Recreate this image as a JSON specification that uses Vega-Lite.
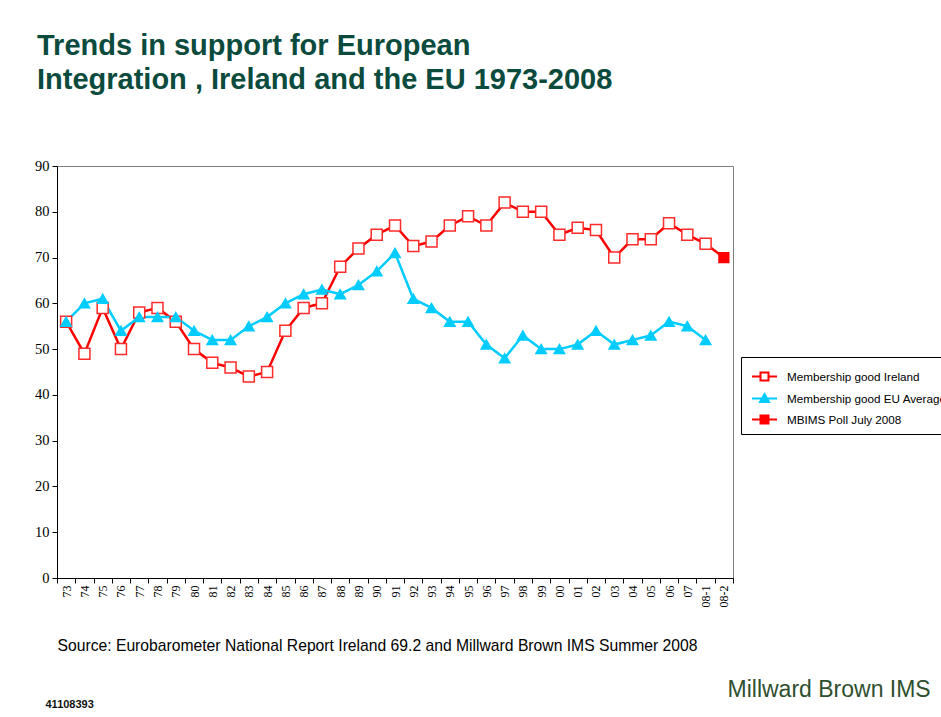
{
  "$schema": "https://vega.github.io/schema/vega-lite/v6.json",
  "width": 676,
  "height": 412,
  "autosize": {"type": "none"},
  "padding": {"left": 57, "top": 166, "right": 208, "bottom": 139},
  "background": "white",
  "config": {"view": {"stroke": "#808080", "strokeWidth": 1}},
  "title": {
    "text": ["Trends in support for European", "Integration ,  Ireland and the EU 1973-2008"],
    "anchor": "start",
    "frame": "group",
    "dx": -20,
    "offset": 34,
    "baseline": "bottom",
    "font": "Liberation Sans",
    "fontSize": 29,
    "fontWeight": "bold",
    "color": "#0b4b3d",
    "lineHeight": 34
  },
  "data": {
    "values": [
      {"year": "73", "series": "Membership good Ireland", "value": 56},
      {"year": "73", "series": "Membership good EU Average", "value": 56},
      {"year": "74", "series": "Membership good Ireland", "value": 49},
      {"year": "74", "series": "Membership good EU Average", "value": 60},
      {"year": "75", "series": "Membership good Ireland", "value": 59},
      {"year": "75", "series": "Membership good EU Average", "value": 61},
      {"year": "76", "series": "Membership good Ireland", "value": 50},
      {"year": "76", "series": "Membership good EU Average", "value": 54},
      {"year": "77", "series": "Membership good Ireland", "value": 58},
      {"year": "77", "series": "Membership good EU Average", "value": 57},
      {"year": "78", "series": "Membership good Ireland", "value": 59},
      {"year": "78", "series": "Membership good EU Average", "value": 57},
      {"year": "79", "series": "Membership good Ireland", "value": 56},
      {"year": "79", "series": "Membership good EU Average", "value": 57},
      {"year": "80", "series": "Membership good Ireland", "value": 50},
      {"year": "80", "series": "Membership good EU Average", "value": 54},
      {"year": "81", "series": "Membership good Ireland", "value": 47},
      {"year": "81", "series": "Membership good EU Average", "value": 52},
      {"year": "82", "series": "Membership good Ireland", "value": 46},
      {"year": "82", "series": "Membership good EU Average", "value": 52},
      {"year": "83", "series": "Membership good Ireland", "value": 44},
      {"year": "83", "series": "Membership good EU Average", "value": 55},
      {"year": "84", "series": "Membership good Ireland", "value": 45},
      {"year": "84", "series": "Membership good EU Average", "value": 57},
      {"year": "85", "series": "Membership good Ireland", "value": 54},
      {"year": "85", "series": "Membership good EU Average", "value": 60},
      {"year": "86", "series": "Membership good Ireland", "value": 59},
      {"year": "86", "series": "Membership good EU Average", "value": 62},
      {"year": "87", "series": "Membership good Ireland", "value": 60},
      {"year": "87", "series": "Membership good EU Average", "value": 63},
      {"year": "88", "series": "Membership good Ireland", "value": 68},
      {"year": "88", "series": "Membership good EU Average", "value": 62},
      {"year": "89", "series": "Membership good Ireland", "value": 72},
      {"year": "89", "series": "Membership good EU Average", "value": 64},
      {"year": "90", "series": "Membership good Ireland", "value": 75},
      {"year": "90", "series": "Membership good EU Average", "value": 67},
      {"year": "91", "series": "Membership good Ireland", "value": 77},
      {"year": "91", "series": "Membership good EU Average", "value": 71},
      {"year": "92", "series": "Membership good Ireland", "value": 72.5},
      {"year": "92", "series": "Membership good EU Average", "value": 61},
      {"year": "93", "series": "Membership good Ireland", "value": 73.5},
      {"year": "93", "series": "Membership good EU Average", "value": 59},
      {"year": "94", "series": "Membership good Ireland", "value": 77},
      {"year": "94", "series": "Membership good EU Average", "value": 56},
      {"year": "95", "series": "Membership good Ireland", "value": 79},
      {"year": "95", "series": "Membership good EU Average", "value": 56},
      {"year": "96", "series": "Membership good Ireland", "value": 77},
      {"year": "96", "series": "Membership good EU Average", "value": 51},
      {"year": "97", "series": "Membership good Ireland", "value": 82},
      {"year": "97", "series": "Membership good EU Average", "value": 48},
      {"year": "98", "series": "Membership good Ireland", "value": 80},
      {"year": "98", "series": "Membership good EU Average", "value": 53},
      {"year": "99", "series": "Membership good Ireland", "value": 80},
      {"year": "99", "series": "Membership good EU Average", "value": 50},
      {"year": "00", "series": "Membership good Ireland", "value": 75},
      {"year": "00", "series": "Membership good EU Average", "value": 50},
      {"year": "01", "series": "Membership good Ireland", "value": 76.5},
      {"year": "01", "series": "Membership good EU Average", "value": 51},
      {"year": "02", "series": "Membership good Ireland", "value": 76},
      {"year": "02", "series": "Membership good EU Average", "value": 54},
      {"year": "03", "series": "Membership good Ireland", "value": 70},
      {"year": "03", "series": "Membership good EU Average", "value": 51},
      {"year": "04", "series": "Membership good Ireland", "value": 74},
      {"year": "04", "series": "Membership good EU Average", "value": 52},
      {"year": "05", "series": "Membership good Ireland", "value": 74},
      {"year": "05", "series": "Membership good EU Average", "value": 53},
      {"year": "06", "series": "Membership good Ireland", "value": 77.5},
      {"year": "06", "series": "Membership good EU Average", "value": 56},
      {"year": "07", "series": "Membership good Ireland", "value": 75},
      {"year": "07", "series": "Membership good EU Average", "value": 55},
      {"year": "08-1", "series": "Membership good Ireland", "value": 73},
      {"year": "08-1", "series": "Membership good EU Average", "value": 52},
      {"year": "08-2", "series": "MBIMS Poll July 2008", "value": 70}
    ]
  },
  "encoding": {
    "x": {
      "field": "year",
      "type": "ordinal",
      "sort": null,
      "bandPosition": 0.5,
      "scale": {
        "type": "band",
        "paddingInner": 0,
        "paddingOuter": 0,
        "domain": ["73","74","75","76","77","78","79","80","81","82","83","84","85","86","87","88","89","90","91","92","93","94","95","96","97","98","99","00","01","02","03","04","05","06","07","08-1","08-2"]
      },
      "axis": {
        "tickBand": "extent",
        "labelAngle": -90,
        "labelAlign": "right",
        "labelBaseline": "middle",
        "labelFont": "Liberation Serif",
        "labelFontSize": 12,
        "labelColor": "#000000",
        "labelPadding": 2,
        "tickSize": 5,
        "tickColor": "#000000",
        "domainColor": "#000000",
        "grid": false,
        "title": "Source: Eurobarometer National Report Ireland 69.2 and Millward Brown IMS Summer 2008",
        "titleFont": "Liberation Sans",
        "titleFontSize": 15.7,
        "titleFontWeight": "normal",
        "titleColor": "#000000",
        "titleAnchor": "start",
        "titleAlign": "left",
        "titleBaseline": "alphabetic",
        "titleX": 0,
        "titleY": 72
      }
    }
  },
  "layer": [
    {
      "transform": [{"filter": "datum.series !== 'Membership good EU Average'"}],
      "mark": {"type": "line", "color": "#ff0000", "strokeWidth": 2.5},
      "encoding": {
        "y": {
          "field": "value",
          "type": "quantitative",
          "scale": {"domain": [0, 90], "nice": false, "zero": true},
          "axis": {
            "values": [0, 10, 20, 30, 40, 50, 60, 70, 80, 90],
            "labelFont": "Liberation Serif",
            "labelFontSize": 14.5,
            "labelColor": "#000000",
            "labelPadding": 3,
            "tickSize": 5,
            "tickColor": "#000000",
            "domainColor": "#000000",
            "grid": false,
            "title": "41108393",
            "titleFont": "Liberation Sans",
            "titleFontSize": 11,
            "titleFontWeight": "bold",
            "titleColor": "#111111",
            "titleAngle": 0,
            "titleAlign": "left",
            "titleBaseline": "alphabetic",
            "titleX": -12,
            "titleY": 541
          }
        }
      }
    },
    {
      "transform": [{"filter": "datum.series === 'Membership good EU Average'"}],
      "mark": {"type": "line", "color": "#00ccff", "strokeWidth": 2.5},
      "encoding": {
        "y": {
          "field": "value",
          "type": "quantitative",
          "scale": {"domain": [0, 90], "nice": false, "zero": true},
          "axis": {
            "orient": "right",
            "labels": false,
            "ticks": false,
            "domain": false,
            "grid": false,
            "title": "Millward Brown IMS",
            "titleFont": "Liberation Sans",
            "titleFontSize": 23,
            "titleFontWeight": "normal",
            "titleColor": "#2f4f2f",
            "titleAngle": 0,
            "titleAlign": "left",
            "titleBaseline": "alphabetic",
            "titleX": -6,
            "titleY": 530
          }
        }
      }
    },
    {
      "mark": {"type": "point", "filled": false, "opacity": 1, "strokeWidth": 1.5},
      "encoding": {
        "y": {"field": "value", "type": "quantitative", "axis": null},
        "shape": {
          "field": "series",
          "type": "nominal",
          "scale": {"domain": ["Membership good Ireland", "Membership good EU Average", "MBIMS Poll July 2008"], "range": ["square", "triangle-up", "square"]},
          "legend": null
        },
        "fill": {
          "field": "series",
          "type": "nominal",
          "scale": {"domain": ["Membership good Ireland", "Membership good EU Average", "MBIMS Poll July 2008"], "range": ["#ffffff", "#00ccff", "#ff0000"]},
          "legend": null
        },
        "size": {
          "field": "series",
          "type": "nominal",
          "scale": {"domain": ["Membership good Ireland", "Membership good EU Average", "MBIMS Poll July 2008"], "range": [121, 95, 121]},
          "legend": null
        },
        "stroke": {
          "field": "series",
          "type": "nominal",
          "scale": {"domain": ["Membership good Ireland", "Membership good EU Average", "MBIMS Poll July 2008"], "range": ["#ff2a2a", "#00ccff", "#ff0000"]},
          "legend": null
        }
      }
    },
    {
      "transform": [{"filter": "false"}],
      "mark": {"type": "point", "filled": false, "opacity": 1, "strokeWidth": 2},
      "encoding": {
        "y": {"field": "value", "type": "quantitative", "axis": null},
        "shape": {
          "field": "series",
          "type": "nominal",
          "scale": {"domain": ["Membership good Ireland", "Membership good EU Average", "MBIMS Poll July 2008"], "range": ["M-0.68,0H0M0.64,0H1.32M0,-0.32H0.64V0.32H0Z", "M-0.68,0H1.32M0.32,-0.36L0.68,0.28H-0.04Z", "M-0.68,0H1.32M0,-0.32H0.64V0.32H0Z"]},
          "legend": {
            "title": null, "orient": "none", "legendX": 684, "legendY": 191, "padding": 6,
            "strokeColor": "#000000", "fillColor": "#ffffff",
            "labelFont": "Liberation Sans", "labelFontSize": 11.7, "labelColor": "#000000", "labelLimit": 0,
            "labelOffset": 13, "rowPadding": -9, "symbolSize": 625, "symbolStrokeWidth": 2
          }
        },
        "fill": {
          "field": "series",
          "type": "nominal",
          "scale": {"domain": ["Membership good Ireland", "Membership good EU Average", "MBIMS Poll July 2008"], "range": ["#ffffff", "#00ccff", "#ff0000"]},
          "legend": {
            "title": null, "orient": "none", "legendX": 684, "legendY": 191, "padding": 6,
            "strokeColor": "#000000", "fillColor": "#ffffff",
            "labelFont": "Liberation Sans", "labelFontSize": 11.7, "labelColor": "#000000", "labelLimit": 0,
            "labelOffset": 13, "rowPadding": -9, "symbolSize": 625, "symbolStrokeWidth": 2
          }
        },
        "stroke": {
          "field": "series",
          "type": "nominal",
          "scale": {"domain": ["Membership good Ireland", "Membership good EU Average", "MBIMS Poll July 2008"], "range": ["#ff0000", "#00ccff", "#ff0000"]},
          "legend": {
            "title": null, "orient": "none", "legendX": 684, "legendY": 191, "padding": 6,
            "strokeColor": "#000000", "fillColor": "#ffffff",
            "labelFont": "Liberation Sans", "labelFontSize": 11.7, "labelColor": "#000000", "labelLimit": 0,
            "labelOffset": 13, "rowPadding": -9, "symbolSize": 625, "symbolStrokeWidth": 2
          }
        }
      }
    }
  ],
  "resolve": {
    "axis": {"y": "independent"},
    "scale": {"shape": "independent", "fill": "independent", "stroke": "independent", "size": "independent"}
  }
}
